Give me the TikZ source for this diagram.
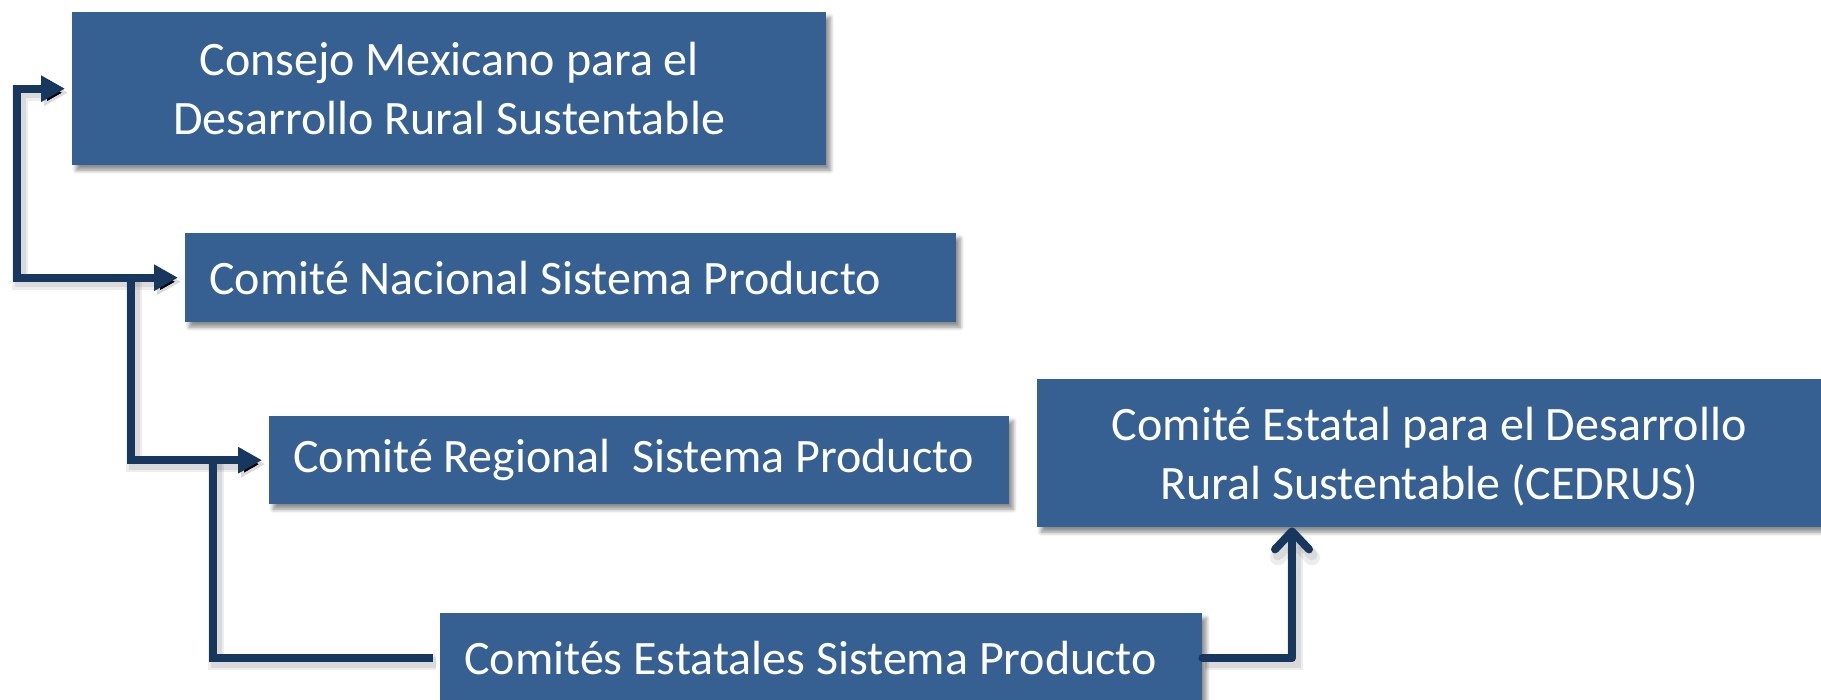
\documentclass[tikz,border=0pt]{standalone}
\usepackage{fontspec}
\setmainfont{Carlito}
\usetikzlibrary{arrows.meta,shadows.blur,calc}
\definecolor{boxblue}{HTML}{376092}
\definecolor{linenavy}{HTML}{17375E}
\begin{document}
\begin{tikzpicture}[x=1pt,y=-1pt,
  box/.style={fill=boxblue, draw=none, text=white,
    font=\fontsize{48}{59}\selectfont, inner ysep=0pt, anchor=north west,
    blur shadow={shadow xshift=4pt, shadow yshift=-5pt, shadow blur steps=6,
      shadow opacity=45, shadow blur radius=4pt}},
  cbox/.style={box, inner xsep=0pt, align=center},
  lbox/.style={box, inner xsep=24pt, align=flush left},
  conn/.style={draw=linenavy, line width=8pt,
    preaction={draw=black, draw opacity=0.07, line width=16pt,
      transform canvas={xshift=3pt,yshift=-4pt}},
    preaction={draw=black, draw opacity=0.08, line width=11pt,
      transform canvas={xshift=3pt,yshift=-4pt}}},
]
\useasboundingbox (0,0) rectangle (1821,700);

\node[cbox, minimum width=754pt, minimum height=153pt] (box1) at (72,12)
  {Consejo Mexicano para el\\Desarrollo Rural Sustentable};
\node[lbox, text width=723pt, minimum height=89pt] (box2) at (185,233)
  {Comité Nacional Sistema Producto};
\node[lbox, text width=692pt, minimum height=88pt] (box3) at (269,416)
  {Comité Regional\ \ Sistema Producto};
\node[cbox, minimum width=784pt, minimum height=148pt] (box4) at (1037,379)
  {\rule{0pt}{41pt}Comité Estatal para el Desarrollo\\Rural Sustentable (CEDRUS)};
\node[lbox, text width=714pt, minimum height=90pt] (box5) at (440,613)
  {Comités Estatales Sistema Producto};

\coordinate (x1) at (17,0);
\coordinate (x2) at (131,0);
\coordinate (x3) at (213,0);
\coordinate (x4) at (1292,0);

\draw[conn, {Triangle[length=24pt,width=25pt]}-{Triangle[length=24pt,width=25pt]},
  shorten <=7pt, shorten >=7pt]
  (box1.west) -| (x1 |- box2.west) -- (box2.west);
\draw[conn, -{Triangle[length=24pt,width=25pt]}, shorten >=7pt]
  (x2 |- box2.west) |- (box3.west);
\draw[conn, shorten >=7pt]
  (x3 |- box3.west) |- (box5.west);
\draw[conn, line cap=round, line join=round,
  -{Straight Barb[length=18pt,width=34pt,round]}]
  (box5.east) -| (x4 |- box4.south);
\end{tikzpicture}
\end{document}
